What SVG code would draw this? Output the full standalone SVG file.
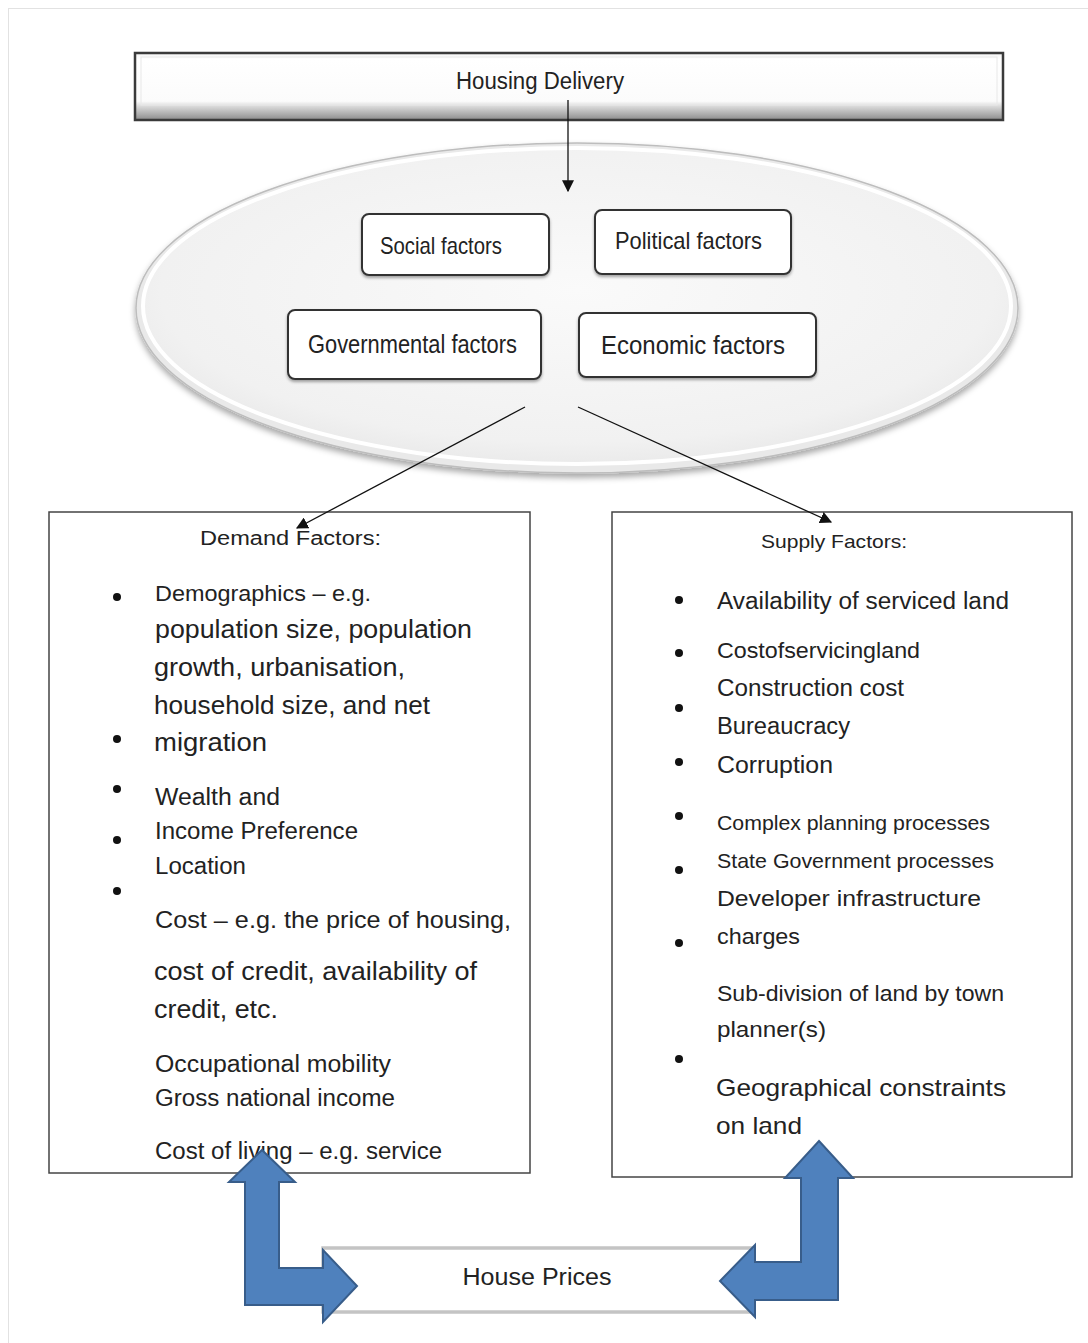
<svg xmlns="http://www.w3.org/2000/svg" width="1088" height="1343" viewBox="0 0 1088 1343">
<defs>
<linearGradient id="hdGrad" x1="0" y1="0" x2="0" y2="1">
<stop offset="0" stop-color="#f4f4f4"/>
<stop offset="0.1" stop-color="#ffffff"/>
<stop offset="0.72" stop-color="#fbfbfb"/>
<stop offset="0.8" stop-color="#d8d8d8"/>
<stop offset="1" stop-color="#8c8c8c"/>
</linearGradient>
<radialGradient id="ellGrad" cx="0.5" cy="0.45" r="0.6">
<stop offset="0" stop-color="#fafafa"/>
<stop offset="0.8" stop-color="#f1f1f1"/>
<stop offset="1" stop-color="#e6e6e6"/>
</radialGradient>
<filter id="sh" x="-10%" y="-10%" width="120%" height="130%">
<feDropShadow dx="0" dy="2" stdDeviation="1.5" flood-color="#000" flood-opacity="0.35"/>
</filter>
<filter id="ellSh" x="-5%" y="-5%" width="110%" height="115%">
<feDropShadow dx="0" dy="4" stdDeviation="3" flood-color="#000" flood-opacity="0.35"/>
</filter>
<marker id="ah" viewBox="0 0 10 10" refX="9" refY="5" markerWidth="12" markerHeight="12" markerUnits="userSpaceOnUse" orient="auto">
<path d="M0,0 L10,5 L0,10 z" fill="#111"/>
</marker>
</defs>
<style>
.t{font-family:"Liberation Sans",Arial,sans-serif;fill:#222;}
.c{font-family:"Liberation Sans Narrow","Liberation Sans",Arial,sans-serif;fill:#222;}
.fb{fill:#fff;stroke:#333;stroke-width:2;}
.box{fill:#fff;stroke:#444;stroke-width:1.5;}
.ln{stroke:#111;stroke-width:1.3;fill:none;marker-end:url(#ah);}
.blue{fill:#4f81bd;stroke:#385d8a;stroke-width:2;stroke-linejoin:miter;}
.dot{fill:#111;}
</style>
<rect x="0" y="0" width="1088" height="1343" fill="#fff"/>
<rect x="8.5" y="8.5" width="1080" height="1340" fill="none" stroke="#e2e2e2" stroke-width="1"/>

<g id="housing-delivery">
<rect x="135" y="53" width="868" height="67" fill="url(#hdGrad)" stroke="#3a3a3a" stroke-width="2.5"/>
<rect x="141" y="57" width="856" height="48" fill="none" stroke="#e8e8e8" stroke-width="1"/>
<text class="c" x="540" y="89" font-size="23" text-anchor="middle" textLength="168" lengthAdjust="spacingAndGlyphs">Housing Delivery</text>
</g>

<g id="factors-ellipse">
<ellipse cx="577" cy="308" rx="441" ry="165" fill="#e9e9e9" stroke="#bdbdbd" stroke-width="1.5" filter="url(#ellSh)"/>
<ellipse cx="577" cy="306" rx="434" ry="158" fill="url(#ellGrad)" stroke="#ffffff" stroke-width="4"/>
</g>

<g id="social-factors">
<rect class="fb" x="362" y="214" width="187" height="61" rx="7" filter="url(#sh)"/>
<text class="c" x="380" y="254" font-size="24" textLength="122" lengthAdjust="spacingAndGlyphs">Social factors</text>
</g>
<g id="political-factors">
<rect class="fb" x="595" y="210" width="196" height="64" rx="7" filter="url(#sh)"/>
<text class="c" x="615" y="249" font-size="24" textLength="147" lengthAdjust="spacingAndGlyphs">Political factors</text>
</g>
<g id="governmental-factors">
<rect class="fb" x="288" y="310" width="253" height="69" rx="7" filter="url(#sh)"/>
<text class="c" x="308" y="353" font-size="25" textLength="209" lengthAdjust="spacingAndGlyphs">Governmental factors</text>
</g>
<g id="economic-factors">
<rect class="fb" x="579" y="313" width="237" height="64" rx="7" filter="url(#sh)"/>
<text class="c" x="601" y="354" font-size="25" textLength="184" lengthAdjust="spacingAndGlyphs">Economic factors</text>
</g>

<g id="demand-factors">
<rect class="box" x="49" y="512" width="481" height="661"/>
<text class="t" x="200" y="545" font-size="20" textLength="181" lengthAdjust="spacingAndGlyphs">Demand Factors:</text>
<circle class="dot" cx="117" cy="597" r="4"/>
<circle class="dot" cx="117" cy="739" r="4"/>
<circle class="dot" cx="117" cy="789" r="4"/>
<circle class="dot" cx="117" cy="840" r="4"/>
<circle class="dot" cx="117" cy="891" r="4"/>
<text class="t" x="155" y="601" font-size="22" textLength="216" lengthAdjust="spacingAndGlyphs">Demographics – e.g.</text>
<text class="t" x="155" y="638" font-size="25" textLength="317" lengthAdjust="spacingAndGlyphs">population size, population</text>
<text class="t" x="154" y="676" font-size="25" textLength="251" lengthAdjust="spacingAndGlyphs">growth, urbanisation,</text>
<text class="t" x="154" y="714" font-size="25" textLength="276" lengthAdjust="spacingAndGlyphs">household size, and net</text>
<text class="t" x="154" y="751" font-size="25" textLength="113" lengthAdjust="spacingAndGlyphs">migration</text>
<text class="t" x="155" y="805" font-size="23" textLength="125" lengthAdjust="spacingAndGlyphs">Wealth and</text>
<text class="t" x="155" y="839" font-size="23" textLength="203" lengthAdjust="spacingAndGlyphs">Income Preference</text>
<text class="t" x="155" y="874" font-size="23" textLength="91" lengthAdjust="spacingAndGlyphs">Location</text>
<text class="t" x="155" y="928" font-size="24" textLength="356" lengthAdjust="spacingAndGlyphs">Cost – e.g. the price of housing,</text>
<text class="t" x="154" y="980" font-size="25" textLength="323" lengthAdjust="spacingAndGlyphs">cost of credit, availability of</text>
<text class="t" x="154" y="1018" font-size="25" textLength="124" lengthAdjust="spacingAndGlyphs">credit, etc.</text>
<text class="t" x="155" y="1072" font-size="23" textLength="236" lengthAdjust="spacingAndGlyphs">Occupational mobility</text>
<text class="t" x="155" y="1106" font-size="23" textLength="240" lengthAdjust="spacingAndGlyphs">Gross national income</text>
<text class="t" x="155" y="1159" font-size="23" textLength="287" lengthAdjust="spacingAndGlyphs">Cost of living – e.g. service</text>
</g>

<g id="supply-factors">
<rect class="box" x="612" y="512" width="460" height="665"/>
<text class="t" x="761" y="548" font-size="19" textLength="146" lengthAdjust="spacingAndGlyphs">Supply Factors:</text>
<circle class="dot" cx="679" cy="600" r="4"/>
<circle class="dot" cx="679" cy="653" r="4"/>
<circle class="dot" cx="679" cy="708" r="4"/>
<circle class="dot" cx="679" cy="762" r="4"/>
<circle class="dot" cx="679" cy="816" r="4"/>
<circle class="dot" cx="679" cy="870" r="4"/>
<circle class="dot" cx="679" cy="943" r="4"/>
<circle class="dot" cx="679" cy="1059" r="4"/>
<text class="t" x="717" y="609" font-size="23" textLength="292" lengthAdjust="spacingAndGlyphs">Availability of serviced land</text>
<text class="t" x="717" y="658" font-size="22" textLength="203" lengthAdjust="spacingAndGlyphs">Costofservicingland</text>
<text class="t" x="717" y="696" font-size="23" textLength="187" lengthAdjust="spacingAndGlyphs">Construction cost</text>
<text class="t" x="717" y="734" font-size="23" textLength="133" lengthAdjust="spacingAndGlyphs">Bureaucracy</text>
<text class="t" x="717" y="773" font-size="23" textLength="116" lengthAdjust="spacingAndGlyphs">Corruption</text>
<text class="t" x="717" y="830" font-size="21" textLength="273" lengthAdjust="spacingAndGlyphs">Complex planning processes</text>
<text class="t" x="717" y="868" font-size="21" textLength="277" lengthAdjust="spacingAndGlyphs">State Government processes</text>
<text class="t" x="717" y="906" font-size="22" textLength="264" lengthAdjust="spacingAndGlyphs">Developer infrastructure</text>
<text class="t" x="717" y="944" font-size="22" textLength="83" lengthAdjust="spacingAndGlyphs">charges</text>
<text class="t" x="717" y="1001" font-size="22" textLength="287" lengthAdjust="spacingAndGlyphs">Sub-division of land by town</text>
<text class="t" x="717" y="1037" font-size="22" textLength="109" lengthAdjust="spacingAndGlyphs">planner(s)</text>
<text class="t" x="716" y="1096" font-size="24" textLength="290" lengthAdjust="spacingAndGlyphs">Geographical constraints</text>
<text class="t" x="716" y="1134" font-size="24" textLength="86" lengthAdjust="spacingAndGlyphs">on land</text>
</g>

<g id="house-prices">
<rect x="323" y="1248" width="428" height="64" fill="#fff" stroke="#c4c4c4" stroke-width="3.5"/>
<text class="t" x="537" y="1285" font-size="23" text-anchor="middle" textLength="149" lengthAdjust="spacingAndGlyphs">House Prices</text>
</g>

<g id="connectors">
<line class="ln" x1="568" y1="100" x2="568" y2="191"/>
<line class="ln" x1="525" y1="407" x2="297" y2="528"/>
<line class="ln" x1="578" y1="407" x2="831" y2="522"/>
<path class="blue" d="M262,1150 L295,1182 L279,1182 L279,1268 L323,1268 L323,1250 L357,1286 L323,1322 L323,1305 L245,1305 L245,1182 L229,1182 Z"/>
<path class="blue" d="M819,1141 L853,1178 L838,1178 L838,1300 L755,1300 L755,1317 L720,1281 L755,1245 L755,1262 L801,1262 L801,1178 L785,1178 Z"/>
</g>
</svg>
